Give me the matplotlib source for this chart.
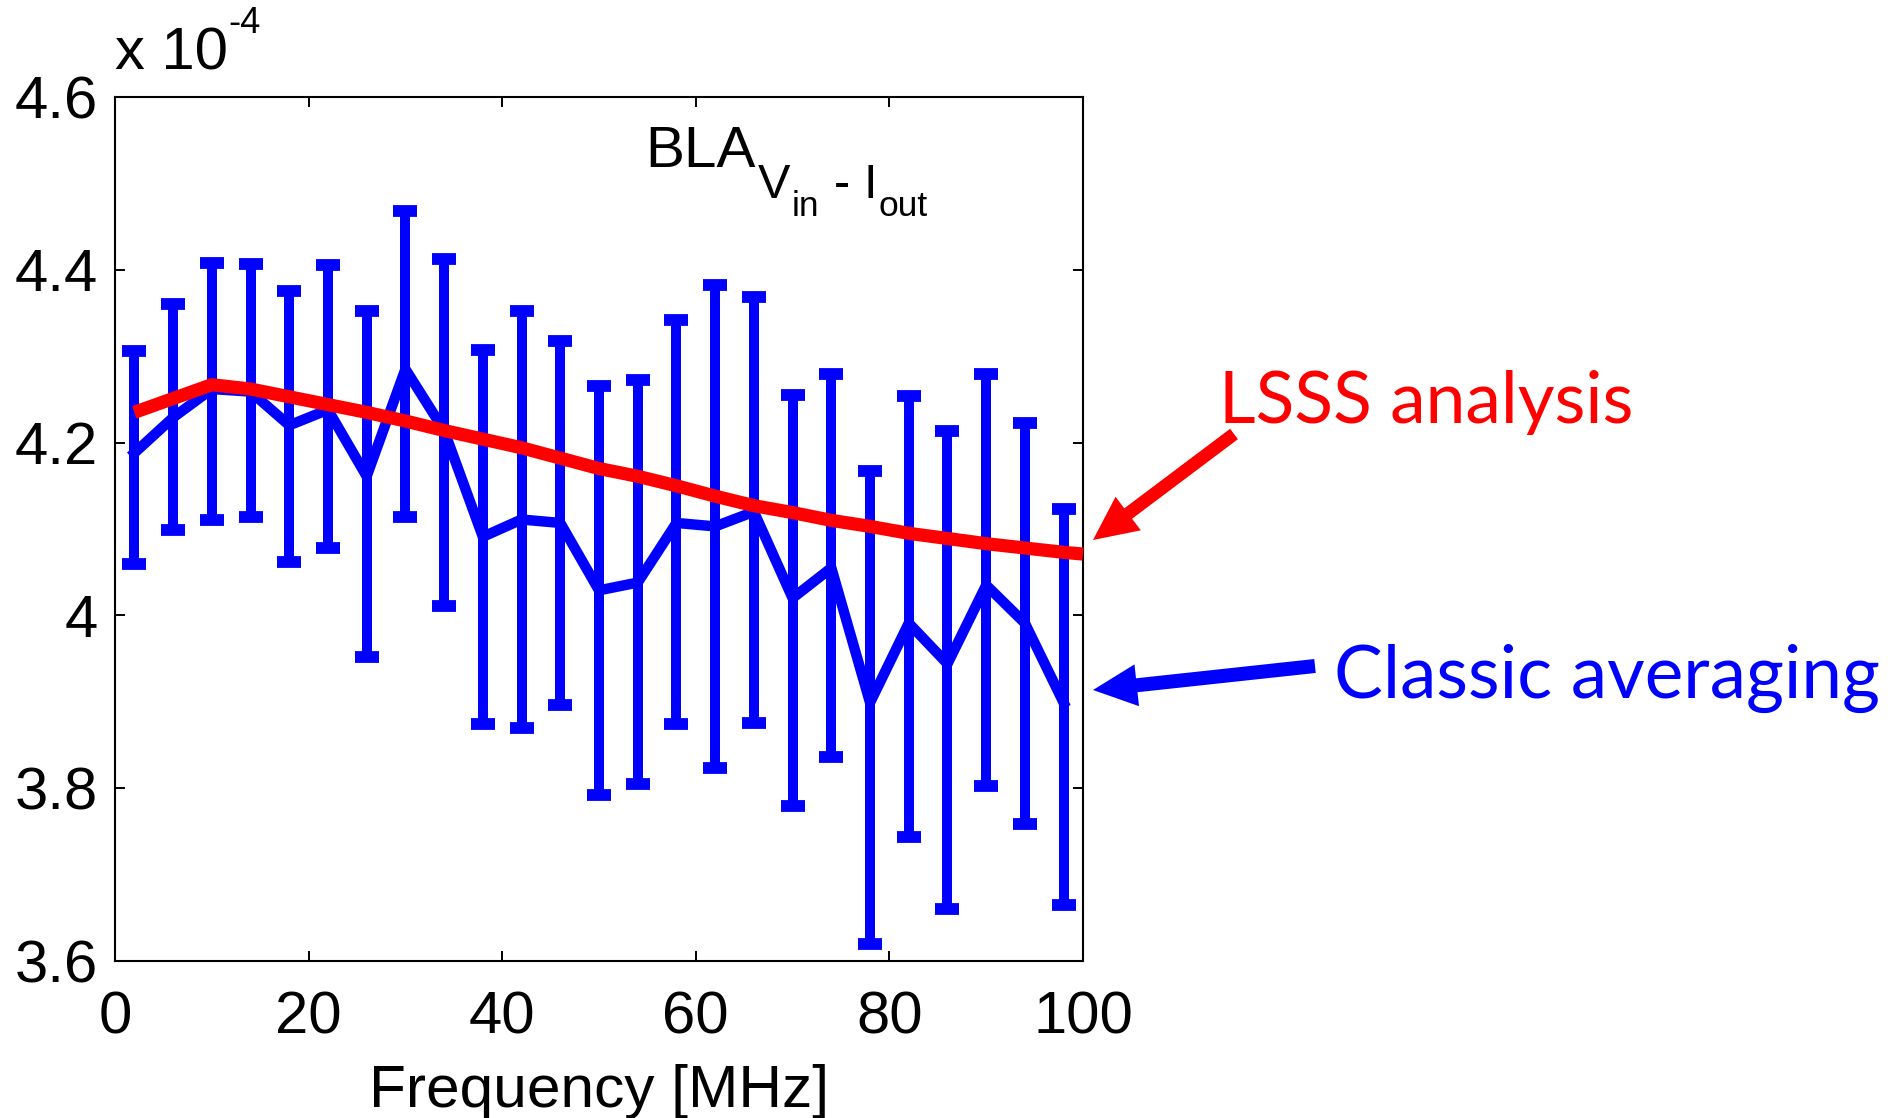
import matplotlib
matplotlib.use('Agg')
import matplotlib.pyplot as plt
import numpy as np
from matplotlib.patches import FancyArrow
from matplotlib.transforms import IdentityTransform

plt.rcParams['font.family'] = ['Liberation Sans', 'DejaVu Sans']

# ---------------- data (values in units of 1e-4) ----------------
freq = [2, 6, 10, 14, 18, 22, 26, 30, 34, 38, 42, 46, 50,
        54, 58, 62, 66, 70, 74, 78, 82, 86, 90, 94, 98]
classic_mean = [4.188, 4.229, 4.262, 4.259, 4.220, 4.238, 4.161, 4.285, 4.214,
                4.091, 4.111, 4.107, 4.029, 4.038, 4.107, 4.103, 4.120, 4.020,
                4.055, 3.899, 3.991, 3.944, 4.035, 3.991, 3.899]
classic_upper = [4.306, 4.360, 4.408, 4.407, 4.376, 4.406, 4.352, 4.468, 4.412,
                 4.307, 4.352, 4.318, 4.265, 4.272, 4.342, 4.382, 4.368, 4.255,
                 4.279, 4.167, 4.254, 4.214, 4.279, 4.223, 4.123]
classic_lower = [4.060, 4.099, 4.110, 4.114, 4.062, 4.078, 3.952, 4.114, 4.011,
                 3.874, 3.870, 3.896, 3.792, 3.805, 3.874, 3.823, 3.876, 3.779,
                 3.836, 3.620, 3.743, 3.660, 3.803, 3.759, 3.665]

lsss_freq = [2, 6, 10, 14, 18, 22, 26, 30, 34, 38, 42, 46, 50,
             54, 58, 62, 66, 70, 74, 78, 82, 86, 90, 94, 98, 100]
lsss_value = [4.235, 4.251, 4.267, 4.262, 4.253, 4.244, 4.235, 4.225, 4.214,
              4.204, 4.194, 4.182, 4.170, 4.161, 4.150, 4.138, 4.127, 4.119,
              4.110, 4.103, 4.095, 4.089, 4.083, 4.078, 4.073, 4.071]

xticks = [0, 20, 40, 60, 80, 100]
yticks = [3.6, 3.8, 4.0, 4.2, 4.4, 4.6]
ytick_labels = ['3.6', '3.8', '4', '4.2', '4.4', '4.6']

BLUE = '#0000ff'
RED = '#ff0000'

# ---------------- figure ----------------
W, H = 1895, 1118
fig = plt.figure(figsize=(W / 100, H / 100), dpi=100)
fig.patch.set_facecolor('white')

ax = fig.add_axes([115 / W, 1 - 961 / H, (1083 - 115) / W, (961 - 97) / H])

mean = np.array(classic_mean)
yerr = [mean - np.array(classic_lower), np.array(classic_upper) - mean]
ax.errorbar(freq, mean, yerr=yerr, color=BLUE, lw=7.5, elinewidth=7.2,
            capsize=8.5, capthick=8.5, zorder=2, solid_joinstyle='miter')
ax.plot(lsss_freq, lsss_value, color=RED, lw=9.5, zorder=3,
        solid_capstyle='butt', solid_joinstyle='round', clip_on=False)

ax.set_xlim(0, 100)
ax.set_ylim(3.6, 4.6)
ax.set_xticks(xticks)
ax.set_yticks(yticks)
ax.set_yticklabels(ytick_labels)
ax.tick_params(axis='both', direction='in', length=7, width=1.4,
               top=True, right=True, labelsize=43, colors='black')
ax.tick_params(axis='x', pad=21)
ax.tick_params(axis='y', pad=12)
for s in ax.spines.values():
    s.set_linewidth(1.5)


def ftext(x, y, s, **kw):
    """place text at full-image pixel coords (y from top)"""
    return fig.text(x / W, 1 - y / H, s, **kw)


# x label
ftext(599, 1107, 'Frequency [MHz]', ha='center', va='baseline', fontsize=43.5)

# exponent
ftext(115, 70, 'x 10', ha='left', va='baseline', fontsize=43)
ftext(228, 33, '-4', ha='left', va='baseline', fontsize=26)

# BLA label
ftext(645, 167, 'BLA', ha='left', va='baseline', fontsize=42)
ftext(758, 198, 'V', ha='left', va='baseline', fontsize=35)
ftext(792, 216, 'in', ha='left', va='baseline', fontsize=25.5)
ftext(834, 198, '-', ha='left', va='baseline', fontsize=35)
ftext(864, 198, 'I', ha='left', va='baseline', fontsize=35)
ftext(878, 216, 'out', ha='left', va='baseline', fontsize=25.5)

# annotations
renderer = fig.canvas.get_renderer()
t1 = ftext(1219, 423, 'LSSS analysis', ha='left', va='baseline',
           fontsize=40, color=RED, family=['Lato', 'DejaVu Sans'])
t2 = ftext(1334, 698, 'Classic averaging', ha='left', va='baseline',
           fontsize=40, color=BLUE, family=['Lato', 'DejaVu Sans'])
for t, target in ((t1, 414), (t2, 546)):
    bb = t.get_window_extent(renderer=renderer)
    t.set_fontsize(40 * target / bb.width)

# arrows (pixel coordinates, y from bottom)
a1 = FancyArrow(1234, H - 434, 1093 - 1234, (H - 540) - (H - 434),
                width=13, head_width=42, head_length=44,
                length_includes_head=True, color=RED, lw=0,
                transform=IdentityTransform())
a2 = FancyArrow(1315, H - 666, 1093 - 1315, (H - 690) - (H - 666),
                width=14, head_width=42, head_length=44,
                length_includes_head=True, color=BLUE, lw=0,
                transform=IdentityTransform())
fig.add_artist(a1)
fig.add_artist(a2)

fig.savefig('out.png', dpi=100, facecolor='white')
